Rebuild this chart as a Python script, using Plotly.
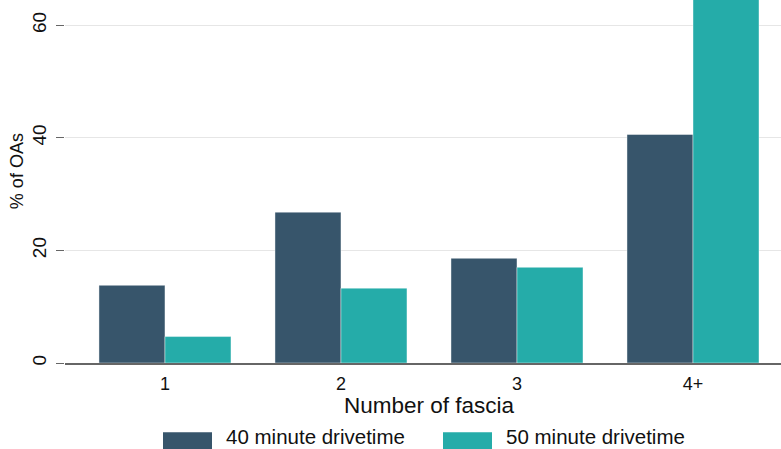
import plotly.graph_objects as go

categories = ["1", "2", "3", "4+"]
series_names = ["40 minute drivetime", "50 minute drivetime"]
values_40 = [13.8, 26.8, 18.6, 40.6]
values_50 = [4.7, 13.3, 17.0, 66.0]
colors = ["#37556b", "#25aca9"]
y_ticks = [0, 20, 40, 60]

FONT = "Liberation Sans, Arial, sans-serif"
W, H = 781, 449
L, B = 65, 86.3
plot_w = W - L
plot_h = H - B

def px(x):
    return (x - L) / plot_w

def py(y):
    return (plot_h - y) / plot_h

fig = go.Figure()
for name, vals, col in zip(series_names, [values_40, values_50], colors):
    fig.add_trace(go.Bar(
        x=categories, y=vals, name=name, marker_color=col,
        marker_line=dict(width=0.6, color="rgba(255,255,255,0.7)"),
        showlegend=False,
    ))

shapes = []
annotations = []
# legend boxes and labels
legend_pos = [(163, 212, 225), (443, 492, 505)]
for (x0, x1, tx), name, col in zip(legend_pos, series_names, colors):
    shapes.append(dict(type="rect", xref="paper", yref="paper",
                       x0=px(x0), x1=px(x1), y0=py(460), y1=py(432),
                       fillcolor=col, line=dict(width=0), layer="above"))
    annotations.append(dict(text=name, xref="paper", yref="paper",
                            x=px(tx), y=py(449), xanchor="left", yanchor="bottom",
                            borderpad=0,
                            showarrow=False, font=dict(family=FONT, size=20.5, color="#111")))
# y-axis title
annotations.append(dict(text="% of OAs", xref="paper", yref="paper",
                        x=px(17), y=py(171), xanchor="center", yanchor="middle",
                        textangle=-90, showarrow=False,
                        font=dict(family=FONT, size=18, color="#111")))
# x-axis title
annotations.append(dict(text="Number of fascia", xref="paper", yref="paper",
                        x=px(429), y=py(405), xanchor="center", yanchor="middle",
                        showarrow=False, font=dict(family=FONT, size=22.5, color="#111")))

fig.update_layout(
    width=W, height=H,
    margin=dict(l=L, r=0, t=0, b=B, pad=0),
    plot_bgcolor="white", paper_bgcolor="white",
    barmode="group", bargap=0.25, bargroupgap=0,
    font=dict(family=FONT, color="#111"),
    shapes=shapes, annotations=annotations,
    xaxis=dict(
        type="category", range=[-0.568, 3.5],
        showgrid=False, showline=True, linecolor="#666", linewidth=1.5,
        ticks="", tickfont=dict(family=FONT, size=18, color="#111"),
        ticklabelstandoff=4,
    ),
    yaxis=dict(
        range=[0, 64.5], tickvals=y_ticks, ticktext=[str(v) for v in y_ticks],
        showgrid=True, gridcolor="#e6e6e6", gridwidth=1.2,
        zeroline=False, showline=False,
        ticks="outside", ticklen=8, tickcolor="#666", tickwidth=1.2,
        tickangle=-90, tickfont=dict(family=FONT, size=19, color="#111"),
        ticklabelstandoff=2,
    ),
)

fig.write_html(
    "out.html",
    config={"displayModeBar": False},
    post_script="document.body.style.margin='0';document.body.style.padding='0';document.body.style.overflow='hidden';",
)
